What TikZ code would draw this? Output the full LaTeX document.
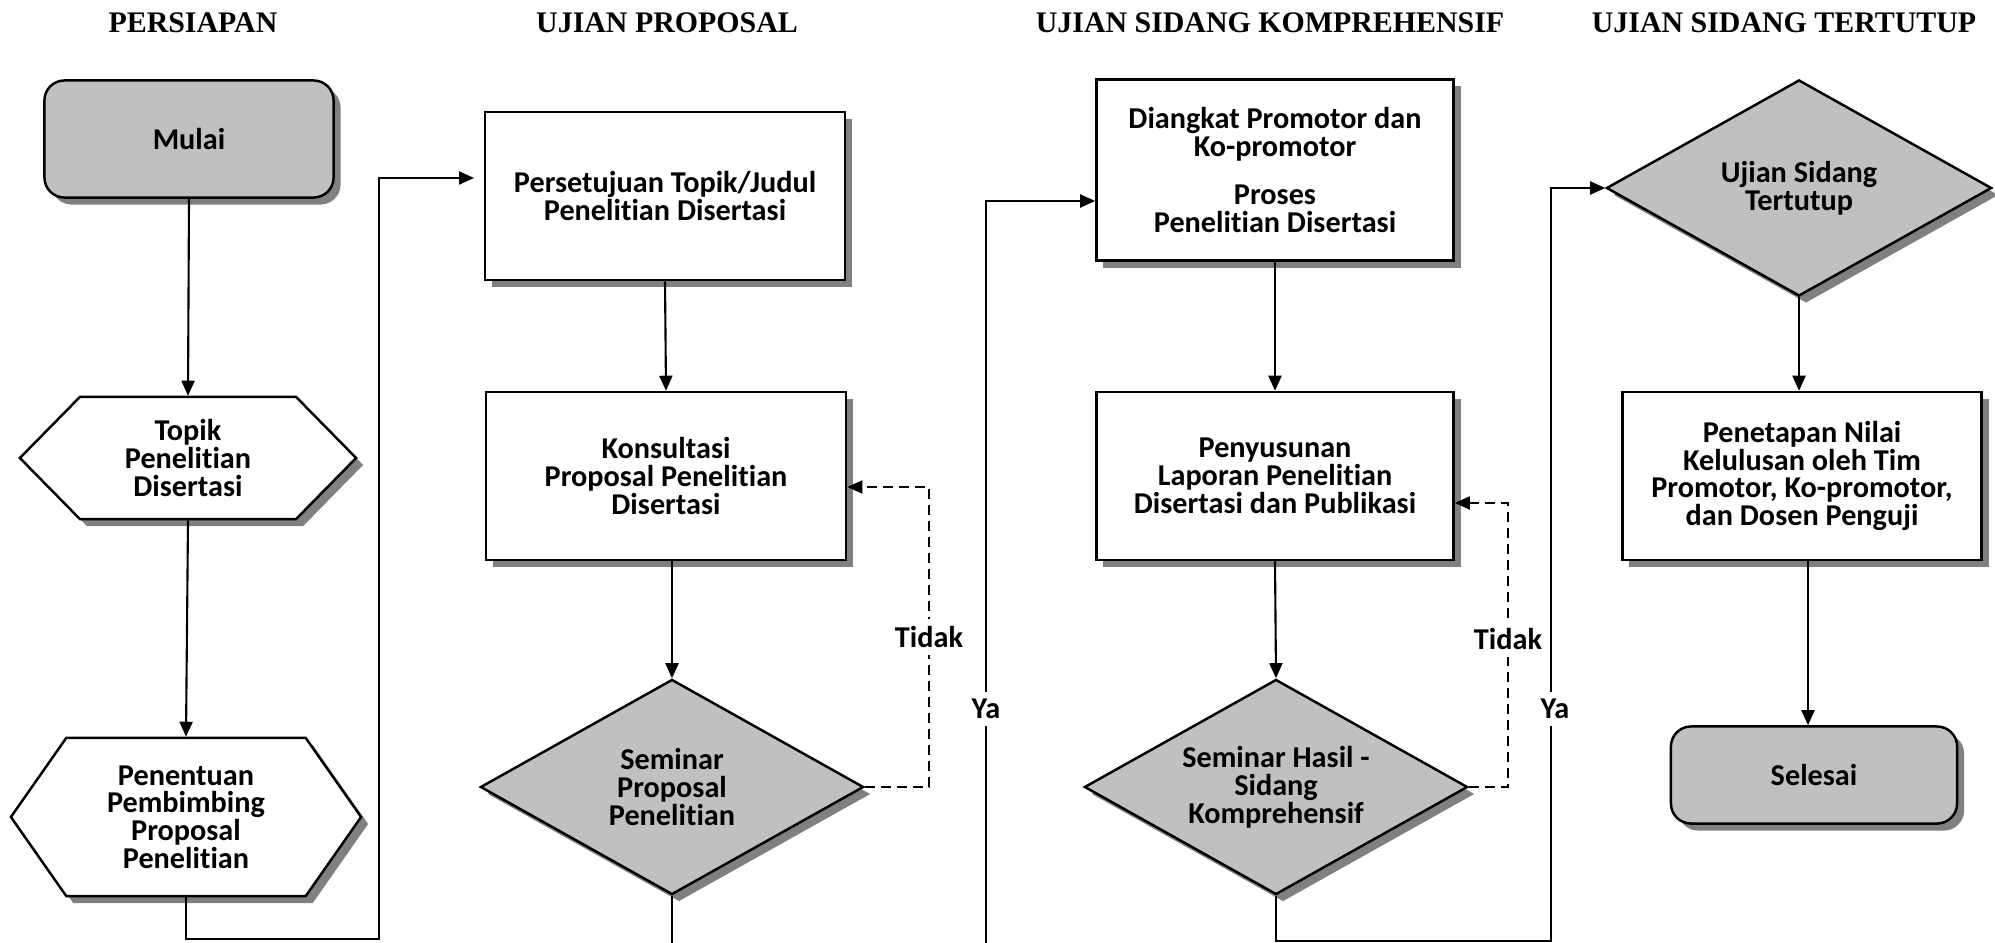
\documentclass[tikz,border=0pt]{standalone}
\usepackage{fontspec}
\setmainfont{Carlito}[Ligatures=NoCommon]
\newfontfamily\titlefont{Liberation Serif}
\usetikzlibrary{arrows.meta, positioning, shapes.geometric, shapes.symbols, shadows}
\definecolor{boxgray}{HTML}{C0C0C0}
\definecolor{shadowgray}{HTML}{808080}

\begin{document}
\begin{tikzpicture}[
  x=0.01cm, y=-0.01cm,
  >={Triangle[length=0.15cm, width=0.13cm]},
  base/.style={
    draw=black, line width=0.7pt, align=center, inner sep=2pt,
    font=\fontsize{8.6}{7.9}\selectfont\bfseries,
    drop shadow={shadow xshift=0.07cm, shadow yshift=-0.07cm, fill=shadowgray, opacity=1}
  },
  term/.style={base, fill=boxgray, rounded corners=0.2cm},
  proc/.style={base, fill=white, rectangle, minimum width=3.6cm, minimum height=1.68cm},
  prep/.style={base, fill=white, shape=signal, signal to=west and east},
  decide/.style={base, fill=boxgray, diamond, minimum width=3.83cm, minimum height=2.15cm, inner sep=-8pt},
  phase/.style={font=\titlefont\fontsize{8.5}{10}\selectfont\bfseries},
  lbl/.style={fill=white, font=\fontsize{8.6}{10}\selectfont\bfseries, inner sep=2pt},
  arr/.style={->, line width=0.6pt},
  back/.style={arr, dash pattern=on 0.1cm off 0.06cm},
]

\clip (0,0) rectangle (1995,943);

% Phase titles
\node[phase] (t-prep) at (193,23) {PERSIAPAN};
\node[phase] (t-prop) at (667,23) {UJIAN PROPOSAL};
\node[phase] (t-komp) at (1270,23) {UJIAN SIDANG KOMPREHENSIF};
\node[phase] (t-tutup) at (1784,23) {UJIAN SIDANG TERTUTUP};

% Persiapan
\node[term, minimum width=2.89cm, minimum height=1.17cm] (mulai) at (189,139) {Mulai};
\node[prep, minimum width=3.36cm, minimum height=1.22cm, signal pointer angle=91] (topik) at (188,458)
  {Topik\\Penelitian\\Disertasi};
\node[prep, minimum width=3.50cm, minimum height=1.58cm, signal pointer angle=110] (penentuan) at (186,817)
  {Penentuan\\Pembimbing\\Proposal\\Penelitian};

% Ujian proposal
\node[proc] (persetujuan) at (665,196) {Persetujuan Topik/Judul\\Penelitian Disertasi};
\node[proc] (konsultasi) at (666,476) {Konsultasi\\Proposal Penelitian\\Disertasi};
\node[decide] (semprop) at (672,787) {Seminar\\Proposal\\Penelitian};

% Ujian sidang komprehensif
\node[proc, minimum width=3.57cm, minimum height=1.81cm] (diangkat) at (1275,170)
  {Diangkat Promotor dan\\Ko-promotor\\[6pt]Proses\\Penelitian Disertasi};
\node[proc, minimum width=3.57cm] (penyusunan) at (1275,476)
  {Penyusunan\\Laporan Penelitian\\Disertasi dan Publikasi};
\node[decide] (semhasil) at (1276,787) {Seminar Hasil -\\Sidang\\Komprehensif};

% Ujian sidang tertutup
\node[decide, minimum width=3.85cm, minimum height=2.16cm] (tertutup) at (1799,188) {Ujian Sidang\\Tertutup};
\node[proc, minimum width=3.59cm] (penetapan) at (1802,476)
  {Penetapan Nilai\\Kelulusan oleh Tim\\Promotor, Ko-promotor,\\dan Dosen Penguji};
\node[term, minimum width=2.86cm, minimum height=0.97cm] (selesai) at (1814,775) {Selesai};

% Turning points
\coordinate (b1) at (379,939);
\coordinate (in1) at (474,178);
\coordinate (t1) at (929,487);
\coordinate (b2) at (986,960);
\coordinate (ya1) at (986,201);
\coordinate (t2) at (1508,503);
\coordinate (b3) at (1551,941);

% Arrows
\draw[arr] (mulai.south) -- (topik.north);
\draw[arr] (topik.south) -- (penentuan.north);
\draw[arr] (penentuan.south) |- (b1) |- (in1);
\draw[arr] (persetujuan.south) -- (konsultasi.north);
\draw[arr] (semprop.north |- konsultasi.south) -- (semprop.north);
\draw[back] (semprop.east) -| node[lbl, pos=0.75] {Tidak} (t1) -- (t1 -| konsultasi.east);
\draw[arr] (semprop.south) |- (b2) |- (ya1) -- (ya1 -| diangkat.west);
\draw[arr] (diangkat.south) -- (penyusunan.north);
\draw[arr] (penyusunan.south) -- (semhasil.north);
\draw[back] (semhasil.east) -| node[lbl, pos=0.76] {Tidak} (t2) -- (t2 -| penyusunan.east);
\draw[arr] (semhasil.south) |- (b3) |- (tertutup.west);
\draw[arr] (tertutup.south) -- (tertutup.south |- penetapan.north);
\draw[arr] ([xshift=-0.06cm]selesai.north |- penetapan.south) -- ([xshift=-0.06cm]selesai.north);

% Ya labels
\node[lbl] (ya-prop) at (986,709) {Ya};
\node[lbl] (ya-komp) at (1555,709) {Ya};

\end{tikzpicture}
\end{document}
